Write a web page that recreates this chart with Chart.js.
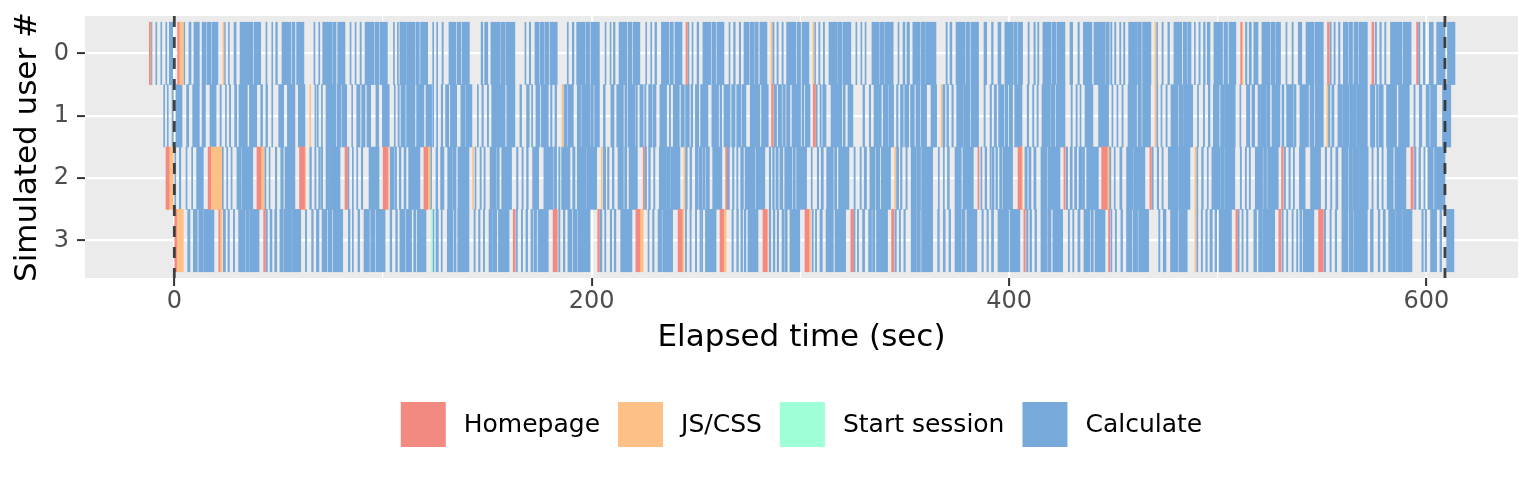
<!DOCTYPE html>
<html>
<head>
<meta charset="utf-8">
<script src="https://cdn.jsdelivr.net/npm/chart.js@4.4.1/dist/chart.umd.min.js"></script>
<style>
  html, body { margin: 0; padding: 0; background: #ffffff; }
  canvas { display: block; }
</style>
</head>
<body>
<canvas id="chart" width="1536" height="480"></canvas>
<script>
// request intervals [start, end] in seconds, one list per simulated user
const users = [0, 1, 2, 3];
const requestTypes = ["Homepage", "JS/CSS", "Start session", "Calculate"];
const typeColors = ["#F38A82", "#FDC086", "#9FFFD6", "#77AADB"];
const xTicks = [0, 200, 400, 600];
const sessionMarks = [0, 608.9];

const home0 = [[-11.7,-11.5],[1.6,2.3],[245.2,245.8],[511.0,511.5],[552.6,553.4],[573.9,574.8],[595.3,595.9]];
const home1 = [[286.2,287.0],[306.2,307.2]];
const home2 = [[-4.0,-2.5],[16.2,17.4],[39.6,41.5],[60.0,62.4],[81.8,82.9],[100.0,102.2],[119.6,121.4],[224.7,225.2],[264.2,264.8],[385.1,385.6],[404.3,405.9],[426.3,426.9],[444.4,447.0],[467.5,468.2],[530.6,531.4],[592.6,593.7]];
const home3 = [[0.2,1.1],[21.3,21.7],[42.8,43.6],[162.4,163.2],[181.5,183.5],[202.9,203.7],[221.2,223.1],[241.4,243.3],[261.5,263.2],[282.1,284.0],[302.2,304.1],[324.2,325.4],[343.7,344.8],[407.1,407.8],[447.7,448.3],[508.7,509.5],[529.3,530.3],[548.3,550.6]];

const js0 = [[-11.5,-11.2],[2.3,4.3],[23.3,23.7],[285.9,286.4],[306.0,306.5],[469.9,470.4],[511.5,512.1]];
const js1 = [[64.9,65.3],[185.8,186.2],[367.4,367.8],[469.9,470.4],[552.3,552.8]];
const js2 = [[-2.5,-0.5],[17.4,22.7],[41.5,43.0],[62.4,62.9],[102.2,102.7],[121.4,122.5],[143.0,143.4],[204.6,205.1],[244.2,244.7],[345.2,345.6],[405.9,406.5],[447.0,447.9],[489.1,489.5]];
const js3 = [[1.1,4.3],[21.7,22.9],[223.1,224.7],[243.3,244.2],[263.2,264.4],[284.0,284.5],[304.1,304.9],[489.1,489.5]];

const start0 = [];
const start1 = [];
const start2 = [];
const start3 = [[123.2,123.6]];

const calc0 = [[-11.0,-10.7],[-8.8,-8.4],[-6.4,-6.0],[-4.0,-3.6],[-2.4,-0.8],[4.5,5.0],[7.0,8.0],[9.4,12.0],[13.3,15.2],[15.7,17.6],[18.1,20.9],[24.0,24.3],[25.9,26.2],[28.6,29.6],[31.5,37.6],[38.2,41.4],[43.9,44.4],[46.7,47.1],[48.6,49.4],[51.6,55.8],[56.4,57.8],[58.6,62.1],
  [66.9,67.4],[69.2,69.7],[71.1,75.6],[76.0,77.5],[78.3,81.8],[84.2,84.7],[86.6,87.1],[89.0,89.6],[91.4,95.7],[96.2,98.1],[98.6,102.1],[105.0,105.4],[106.9,107.3],[108.1,111.0],[111.3,115.3],[115.8,117.4],[118.0,121.4],[123.8,124.3],[125.7,126.2],[128.3,128.9],[131.6,135.0],[135.6,137.4],[138.0,141.4],
  [147.0,147.8],[148.7,150.2],[151.7,156.1],[156.5,158.5],[158.9,163.2],[168.0,168.5],[170.1,170.8],[172.8,174.7],[175.2,177.3],[177.8,179.4],[180.0,183.5],[188.3,188.8],[190.7,191.5],[192.8,196.9],[197.4,199.0],[199.6,203.7],[206.4,206.8],[208.8,209.2],[210.4,211.2],[213.1,216.8],
  [217.4,219.2],[219.8,223.1],[225.9,226.3],[228.3,228.7],[230.3,231.1],[233.4,236.9],[237.5,239.1],[239.9,243.3],[246.1,246.6],[248.1,248.5],[250.5,251.3],[253.3,257.0],[257.6,259.4],[260.0,263.4],[265.8,266.3],[268.0,268.8],[270.7,271.4],[273.0,275.4],[275.9,277.8],[278.2,279.8],[280.6,284.0],[286.7,287.4],[288.8,289.4],[291.2,291.8],[293.4,297.9],
  [298.5,300.1],[300.8,304.1],[306.8,307.3],[308.8,309.4],[311.0,311.6],[313.7,317.7],[318.0,319.9],[320.4,324.2],[326.6,327.1],[329.0,329.5],[331.0,331.4],[334.3,337.7],[338.1,340.1],[340.5,344.5],[346.8,347.2],[349.2,350.1],[351.1,352.3],[353.9,357.3],[357.8,359.9],[360.2,365.0],[369.8,370.4],
  [371.7,372.6],[374.6,378.9],[379.4,381.1],[381.7,385.4],[388.0,389.3],[391.6,392.4],[394.7,396.1],[398.0,401.9],[402.3,403.8],[404.3,406.5],[409.1,409.7],[411.9,412.6],[413.7,414.3],[416.2,420.1],[420.6,422.5],[423.0,426.8],[429.2,430.5],[433.0,433.7],[435.6,439.7],[440.7,446.0],[446.4,448.0],
  [448.7,449.3],[450.6,451.2],[453.0,453.6],[454.9,455.5],[457.3,461.3],[461.6,463.4],[464.0,468.0],[470.7,471.2],[473.3,473.9],[476.1,476.9],[479.0,482.8],[483.5,485.1],[485.6,487.2],[488.8,489.2],[491.0,491.6],[493.2,494.0],[495.0,496.3],[498.2,502.3],[503.0,504.7],[505.4,508.7],[513.3,514.0],[515.1,516.1],[517.3,519.3],[521.2,525.0],
  [525.5,527.6],[528.1,530.1],[532.7,533.2],[535.6,536.2],[538.6,540.3],[542.3,546.1],[546.6,550.6],[553.8,554.4],[555.7,556.3],[557.9,558.6],[560.2,562.5],[563.0,564.6],[565.3,567.2],[567.7,571.7],[575.5,576.1],[577.7,578.4],[580.0,580.6],[582.8,588.3],[588.9,592.7],[596.2,596.9],[598.5,599.4],[601.4,603.3],[604.9,608.9],[610.1,613.7]];

const calc1 = [[-5.1,-4.6],[-3.3,-2.9],[-1.1,-0.5],[0.8,3.7],[5.9,6.9],[8.8,12.0],[13.3,14.9],[17.1,20.0],[21.9,22.5],[24.5,24.9],[26.4,27.0],[28.9,29.9],[31.0,35.0],[36.0,39.5],[41.4,42.3],[43.9,44.7],[46.7,47.1],[50.0,52.4],[54.2,57.8],[59.4,62.6],
  [67.4,67.9],[68.5,69.0],[70.5,70.9],[72.7,77.5],[78.1,79.9],[80.4,82.6],[85.0,85.3],[87.4,89.0],[89.8,91.4],[92.3,94.1],[96.6,97.9],[99.7,103.0],[105.4,105.9],[107.2,107.8],[108.6,110.7],[111.3,115.3],[116.1,119.6],[120.6,123.3],[123.8,124.1],[125.7,126.2],[127.9,128.6],[130.0,131.5],[132.3,135.3],[137.3,139.4],
  [139.8,142.6],[145.2,145.7],[147.4,148.1],[150.0,150.6],[152.1,158.5],[159.3,163.2],[165.6,166.4],[168.8,170.1],[171.2,171.7],[173.3,175.2],[175.9,179.2],[180.3,181.0],[182.4,183.2],[186.7,188.3],[188.8,191.2],[193.1,194.7],[195.2,199.2],[199.6,200.8],[201.4,203.7],[205.6,206.5],[209.2,210.7],[212.0,215.2],[215.9,216.8],
  [217.4,220.6],[221.1,221.9],[223.1,224.7],[225.4,226.0],[227.3,228.9],[229.4,230.8],[232.7,235.9],[237.2,237.8],[239.1,242.0],[242.8,244.4],[245.0,246.8],[247.6,248.4],[249.7,251.3],[252.2,255.7],[257.6,260.8],[261.5,262.3],[263.4,266.3],[267.1,268.7],[269.5,271.4],[272.0,273.9],[276.0,280.6],[281.4,284.6],[287.4,288.6],[289.4,291.0],[291.6,292.8],[293.4,295.0],
  [296.0,300.1],[300.8,301.7],[302.4,304.6],[307.5,308.1],[309.4,310.0],[310.7,312.3],[314.7,319.9],[320.6,321.5],[322.8,325.2],[330.0,330.8],[333.0,333.7],[335.3,337.5],[337.8,338.8],[339.7,342.1],[342.5,344.7],[346.1,346.8],[348.0,349.3],[350.0,351.9],[352.8,354.6],[355.4,357.3],[357.9,360.5],[362.6,365.3],[368.2,369.3],[370.2,371.0],
  [372.6,373.3],[374.9,378.1],[378.4,381.3],[381.9,385.4],[388.0,388.6],[390.9,391.6],[392.9,394.0],[395.0,397.6],[398.2,399.5],[400.1,401.7],[402.7,406.2],[408.7,409.4],[411.3,411.9],[413.4,414.0],[415.8,419.8],[420.2,422.0],[422.6,426.8],[429.7,430.3],[432.1,432.7],[434.0,434.5],[436.4,440.2],[442.9,446.8],[447.1,447.7],
  [449.3,449.8],[451.7,452.2],[454.1,454.7],[457.0,461.1],[461.8,463.4],[464.0,467.8],[470.7,471.3],[472.8,473.3],[475.2,475.8],[477.6,480.9],[481.4,483.2],[483.6,488.0],[490.3,490.8],[493.1,493.7],[495.5,496.3],[497.9,500.7],[501.4,503.3],[503.6,508.4],[510.6,511.1],[513.8,515.4],[516.4,517.7],[519.3,520.2],[520.5,523.1],[523.4,525.0],
  [526.0,529.8],[530.8,531.7],[533.0,536.2],[536.7,537.5],[539.4,543.5],[544.2,546.1],[546.7,550.6],[553.0,553.8],[554.7,555.7],[557.6,559.4],[559.8,563.0],[563.3,566.5],[566.8,571.7],[573.2,575.3],[576.1,576.9],[577.4,579.3],[580.9,585.7],[586.7,591.8],[594.0,594.6],[596.6,597.8],[599.8,601.4],[602.0,604.9],[607.7,611.7]];

const calc2 = [[0.2,0.5],[2.4,3.1],[5.6,6.1],[8.3,8.8],[10.7,13.9],[23.0,23.5],[25.1,25.6],[27.2,27.7],[30.0,32.0],[32.4,37.6],[43.3,43.9],[45.4,45.9],[48.4,49.1],[51.0,52.2],[53.0,57.8],
  [64.9,65.7],[67.3,67.9],[69.2,70.0],[70.5,71.1],[72.7,74.3],[74.4,79.4],[83.1,83.7],[85.3,85.8],[87.4,87.9],[89.6,90.3],[93.3,98.1],[103.4,105.3],[105.7,106.5],[107.8,108.6],[110.1,111.0],[112.3,117.7],[122.8,123.3],[125.4,126.2],[127.6,129.2],[131.0,133.1],[133.4,135.0],[135.9,141.2],
  [144.1,144.6],[146.5,147.1],[148.4,149.0],[151.3,154.1],[154.5,155.7],[156.9,161.6],[164.0,164.7],[166.6,167.2],[168.8,169.6],[171.7,174.6],[177.1,177.6],[177.8,181.6],[182.1,183.2],[184.2,184.8],[185.6,189.6],[190.9,192.0],[193.1,197.3],[197.6,202.4],[205.6,206.7],[207.6,208.3],[209.9,210.7],[212.6,215.2],[215.8,216.8],
  [217.9,221.9],[225.4,226.3],[227.3,228.1],[229.7,230.3],[232.4,235.9],[236.1,237.4],[237.8,242.3],[244.9,245.8],[247.1,247.9],[249.7,250.8],[251.3,252.7],[253.2,254.3],[254.8,256.4],[258.0,262.4],[265.0,266.0],[267.5,268.2],[269.5,270.1],[271.4,272.7],[273.5,278.2],[278.7,283.0],[285.1,285.8],[286.7,287.5],[288.3,289.4],[290.2,291.6],[292.5,296.0],
  [296.6,297.6],[298.2,303.0],[305.2,305.7],[308.1,308.8],[310.0,311.0],[312.6,315.8],[316.4,317.4],[318.3,323.3],[325.7,326.3],[328.6,329.2],[330.6,331.7],[333.3,335.7],[336.2,338.1],[338.8,343.2],[346.1,347.1],[348.0,348.7],[350.6,351.2],[353.1,355.4],[355.7,357.6],[358.1,363.4],[366.1,366.6],[368.5,369.0],[370.5,371.4],
  [374.1,377.1],[377.9,382.9],[386.5,387.0],[388.5,389.3],[390.9,391.5],[392.0,392.8],[393.7,394.5],[395.5,396.6],[397.1,401.7],[407.6,408.7],[409.5,410.5],[411.9,412.9],[415.3,418.3],[418.8,424.4],[427.4,428.1],[429.3,430.3],[431.4,432.4],[433.5,434.9],[435.2,436.2],[437.2,442.8],
  [448.0,448.8],[450.4,450.9],[453.1,454.1],[456.3,459.5],[459.8,465.1],[468.5,469.1],[471.0,471.7],[473.3,473.9],[476.3,481.2],[481.6,486.7],[489.9,490.5],[492.3,493.1],[495.0,495.5],[497.2,501.1],[501.4,503.0],[503.3,508.2],[510.8,511.4],[513.2,513.8],[515.1,515.7],[518.0,521.5],[522.0,523.4],[523.9,529.0],
  [531.9,532.5],[534.1,534.8],[536.2,536.8],[539.1,541.9],[544.5,549.3],[551.5,552.2],[554.1,554.7],[556.6,557.6],[559.5,562.5],[563.0,564.6],[564.9,568.0],[568.3,572.1],[573.9,574.5],[576.4,577.1],[578.7,579.3],[581.2,584.1],[584.9,590.2],[594.3,595.0],[596.4,597.2],[598.8,599.4],[600.7,603.3],[603.9,608.9]];

const calc3 = [[6.4,7.5],[9.1,11.0],[11.7,13.9],[14.2,16.2],[16.3,19.0],[23.5,24.5],[25.7,26.4],[28.3,28.9],[30.8,34.0],[34.4,35.8],[36.1,40.6],[43.9,44.6],[45.9,46.8],[48.1,49.1],[50.6,52.2],[52.6,56.2],[56.6,60.6],[62.8,63.4],
  [65.8,66.6],[68.1,69.3],[70.8,73.0],[73.6,75.6],[76.2,80.7],[83.4,84.2],[85.3,85.8],[88.0,88.8],[90.9,93.5],[94.1,96.0],[96.6,101.0],[103.4,104.2],[106.1,106.9],[108.1,110.5],[111.0,113.7],[114.7,115.7],[116.4,120.6],[123.8,124.4],[125.4,126.5],[127.9,128.4],[130.8,133.4],[134.0,135.0],[135.8,141.2],
  [143.6,144.2],[145.8,146.5],[148.1,148.7],[150.8,152.2],[152.5,154.5],[155.3,160.4],[163.7,164.4],[166.3,166.9],[168.5,169.3],[170.9,171.7],[172.3,173.6],[174.3,179.2],[184.2,184.8],[186.4,187.2],[188.6,190.6],[191.2,192.8],[193.3,199.2],[204.0,204.9],[206.2,206.8],[208.9,209.6],[210.8,211.6],[213.9,219.3],
  [227.0,227.5],[229.2,229.9],[231.8,233.5],[234.0,238.8],[244.9,245.5],[247.1,247.7],[249.7,250.3],[251.9,252.4],[252.7,253.2],[254.5,259.6],[267.2,267.9],[269.5,270.3],[271.5,272.3],[273.1,273.9],[274.9,279.7],[285.1,285.8],[287.0,287.8],[288.9,289.6],[291.2,292.3],[292.8,293.7],[295.0,299.8],
  [305.6,306.2],[307.2,307.8],[309.4,310.5],[312.3,315.8],[316.6,321.7],[325.5,326.2],[327.3,327.9],[329.8,330.8],[332.7,334.1],[334.6,335.7],[336.5,341.8],[345.3,346.0],[347.4,348.0],[349.6,350.3],[353.1,355.4],[355.7,357.5],[358.1,363.4],[365.8,366.6],[368.5,369.4],[371.2,372.0],
  [374.1,377.0],[377.4,378.9],[379.8,384.6],[387.0,387.7],[389.4,390.1],[391.6,392.6],[394.7,399.8],[400.4,405.2],[408.4,409.1],[410.0,410.8],[412.4,413.2],[415.3,418.0],[418.5,420.1],[421.0,425.7],[428.4,429.0],[430.5,431.1],[433.0,434.0],[435.9,438.8],[439.4,440.4],[441.2,446.0],
  [448.8,449.3],[450.9,451.5],[453.6,454.4],[456.3,458.9],[459.5,461.6],[462.1,466.9],[471.7,472.3],[473.9,475.2],[477.4,480.9],[481.4,485.4],[489.9,490.5],[492.1,492.7],[494.3,495.0],[496.3,497.4],[498.7,499.5],[500.7,506.6],[509.7,510.3],[511.6,512.2],[513.8,514.5],[517.3,518.6],[519.6,521.2],[521.5,527.3],
  [530.8,531.4],[533.0,533.6],[535.6,536.2],[537.8,538.4],[539.4,540.3],[541.0,546.1],[551.0,551.7],[553.8,554.4],[556.3,557.0],[559.5,562.4],[563.0,564.9],[565.3,568.5],[568.8,571.7],[573.2,574.5],[576.9,577.7],[579.3,580.3],[581.9,585.0],[585.3,588.3],[588.6,593.1],[597.8,598.5],[599.4,600.1],[602.0,604.9],[606.5,607.3],[609.7,613.2]];

const intervals = [
  [home0, home1, home2, home3],
  [js0, js1, js2, js3],
  [start0, start1, start2, start3],
  [calc0, calc1, calc2, calc3]
];

const FONT = "'DejaVu Sans', 'Liberation Sans', sans-serif";

function toBars(perUser) {
  return perUser.flatMap((list, i) => list.map(([s, e]) => ({ x: [s, e], y: users[i] })));
}

const datasets = requestTypes.map((label, k) => ({
  label: label,
  data: toBars(intervals[k]),
  backgroundColor: typeColors[k],
  borderWidth: 0,
  grouped: false,
  barPercentage: 1,
  categoryPercentage: 1,
  minBarLength: 1
}));

const panelBackground = {
  id: "panelBackground",
  beforeDraw(chart) {
    const { ctx, chartArea: a } = chart;
    ctx.save();
    ctx.fillStyle = "#FFFFFF";
    ctx.fillRect(0, 0, chart.width, chart.height);
    ctx.fillStyle = "#EBEBEB";
    ctx.fillRect(a.left, a.top, a.right - a.left, a.bottom - a.top);
    ctx.restore();
  }
};

const dashedMarks = {
  id: "dashedMarks",
  afterDatasetsDraw(chart) {
    const { ctx, chartArea: a, scales } = chart;
    ctx.save();
    ctx.strokeStyle = "rgba(45,45,45,0.9)";
    ctx.lineWidth = 2.8;
    ctx.setLineDash([11, 10]);
    sessionMarks.forEach((t) => {
      const x = scales.x.getPixelForValue(t);
      ctx.beginPath();
      ctx.moveTo(x, a.top);
      ctx.lineTo(x, a.bottom);
      ctx.stroke();
    });
    ctx.restore();
  }
};

const bottomLegend = {
  id: "bottomLegend",
  afterDraw(chart) {
    const { ctx, chartArea: a } = chart;
    const key = 45, gap = 18, top = 402;
    ctx.save();
    ctx.font = "25px " + FONT;
    const items = chart.data.datasets.map((d) => ({ label: d.label, color: d.backgroundColor, w: ctx.measureText(d.label).width }));
    const total = items.reduce((sum, it) => sum + key + gap + it.w, 0) + gap * (items.length - 1);
    let x = (a.left + a.right) / 2 - total / 2;
    ctx.textBaseline = "middle";
    ctx.textAlign = "left";
    items.forEach((it) => {
      ctx.fillStyle = it.color;
      ctx.fillRect(x, top, key, key);
      x += key + gap;
      ctx.fillStyle = "#000000";
      ctx.fillText(it.label, x, top + key / 2 + 1);
      x += it.w + gap;
    });
    ctx.restore();
  }
};

new Chart(document.getElementById("chart"), {
  type: "bar",
  data: { datasets: datasets },
  plugins: [panelBackground, dashedMarks, bottomLegend],
  options: {
    indexAxis: "y",
    responsive: false,
    animation: false,
    devicePixelRatio: 1,
    layout: { padding: { top: 16, right: 18, bottom: 0, left: 0 } },
    plugins: { legend: { display: false }, tooltip: { enabled: false } },
    scales: {
      x: {
        type: "linear",
        min: -42.8,
        max: 643.9,
        border: { display: false },
        grid: {
          color: "#FFFFFF",
          lineWidth: (c) => (xTicks.includes(c.tick && c.tick.value) ? 2.2 : 1.1),
          tickLength: 8,
          tickWidth: 2,
          tickColor: (c) => (xTicks.includes(c.tick && c.tick.value) ? "#333333" : "rgba(0,0,0,0)")
        },
        ticks: {
          stepSize: 100,
          includeBounds: false,
          autoSkip: false,
          maxRotation: 0,
          padding: 4,
          color: "#4D4D4D",
          font: { family: FONT, size: 24, lineHeight: 1 },
          callback: (v) => (xTicks.includes(v) ? String(v) : "")
        },
        title: {
          display: true,
          text: "Elapsed time (sec)",
          color: "#000000",
          font: { family: FONT, size: 31, lineHeight: 1 },
          padding: { top: 0, bottom: 127 }
        },
        afterFit: (s) => { s.height = 202; s.paddingLeft = 0; s.paddingRight = 0; }
      },
      y: {
        type: "linear",
        min: -0.6,
        max: 3.6,
        reverse: true,
        offset: false,
        border: { display: false },
        grid: { offset: false, color: "#FFFFFF", lineWidth: 2.2, tickLength: 8, tickWidth: 2, tickColor: "#333333" },
        ticks: {
          stepSize: 1,
          includeBounds: false,
          padding: 8,
          color: "#4D4D4D",
          font: { family: FONT, size: 24, lineHeight: 1 }
        },
        title: {
          display: true,
          text: "Simulated user #",
          color: "#000000",
          font: { family: FONT, size: 31, lineHeight: 1 },
          padding: { top: 12, bottom: 0 }
        },
        afterFit: (s) => { s.width = 85; s.paddingTop = 0; s.paddingBottom = 0; }
      }
    }
  }
});
</script>
</body>
</html>
